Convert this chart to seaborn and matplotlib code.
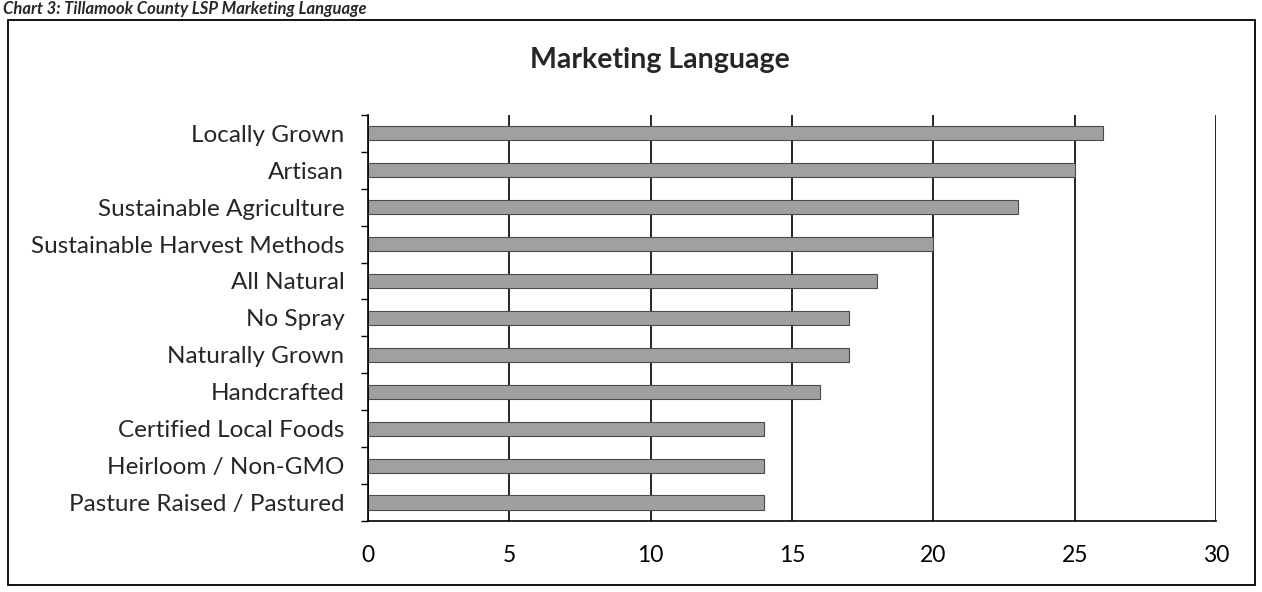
import matplotlib
matplotlib.use('Agg')
import matplotlib.pyplot as plt
import seaborn as sns
from matplotlib.patches import Rectangle

# data
categories = ['Locally Grown', 'Artisan', 'Sustainable Agriculture', 'Sustainable Harvest Methods',
              'All Natural', 'No Spray', 'Naturally Grown', 'Handcrafted',
              'Certified Local Foods', 'Heirloom / Non-GMO', 'Pasture Raised / Pastured']
counts = [26, 25, 23, 20, 18, 17, 17, 16, 14, 14, 14]
x_ticks = [0, 5, 10, 15, 20, 25, 30]

sns.set_style('white')
plt.rcParams['font.family'] = ['Lato', 'DejaVu Sans']

fig = plt.figure(figsize=(12.62, 5.92), dpi=100)
ax = fig.add_axes([0.2916, 0.120, 0.672, 0.686])

sns.barplot(x=counts, y=categories, orient='h', color='#a0a0a0', width=0.38,
            edgecolor='#4a4a4a', linewidth=0.8, saturation=1, ax=ax)

ax.set_xlim(0, 30)
ax.set_xticks(x_ticks)
ax.set_xticklabels([str(t) for t in x_ticks], fontsize=16.5)
ax.set_yticks(range(len(categories)))
ax.set_yticklabels(categories, fontsize=17.5)
ax.set_xlabel('')
ax.set_ylabel('')

# vertical grid lines behind bars
ax.set_axisbelow(True)
ax.xaxis.grid(True, color='black', linewidth=1.2)
ax.yaxis.grid(False)

for side in ['top', 'right']:
    ax.spines[side].set_visible(False)
for side in ['left', 'bottom']:
    ax.spines[side].set_color('black')
    ax.spines[side].set_linewidth(1.2)

ax.tick_params(axis='x', direction='inout', length=10, width=1, colors='black', pad=12)
# y ticks at category boundaries
ax.set_yticks([i + 0.5 for i in range(-1, len(categories))], minor=True)
ax.tick_params(axis='y', which='major', length=0, pad=17)
ax.tick_params(axis='y', which='minor', left=True, direction='out', length=5, width=1, colors='black')

fig.text(0.523, 0.898, 'Marketing Language', ha='center', va='center', fontsize=20.5, fontweight='bold')

# outer chart border and caption
fig.patches.append(Rectangle((0.0065, 0.012), 0.988, 0.955, transform=fig.transFigure,
                             fill=False, edgecolor='black', linewidth=1.3))
fig.text(0.002, 0.998, 'Chart 3: Tillamook County LSP Marketing Language', ha='left', va='top',
         fontsize=12, fontweight='bold', fontstyle='italic')

fig.savefig('out.png', dpi=100)
